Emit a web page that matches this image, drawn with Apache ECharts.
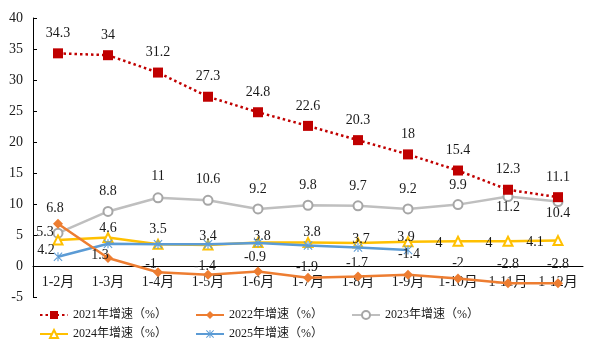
<!DOCTYPE html>
<html>
<head>
<meta charset="utf-8">
<script src="https://cdn.jsdelivr.net/npm/echarts@6/dist/echarts.min.js"></script>
<style>
html,body{margin:0;padding:0;background:#fff;}
#chart{width:600px;height:355px;}
</style>
</head>
<body>
<div id="chart"></div>
<script>
// ---- data ----
const categories = ['1-2月','1-3月','1-4月','1-5月','1-6月','1-7月','1-8月','1-9月','1-10月','1-11月','1-12月'];
const seriesNames = ['2021年增速（%）','2022年增速（%）','2023年增速（%）','2024年增速（%）','2025年增速（%）'];
const growth2021 = [34.3, 34, 31.2, 27.3, 24.8, 22.6, 20.3, 18, 15.4, 12.3, 11.1];
const growth2022 = [6.8, 1.3, -1, -1.4, -0.9, -1.9, -1.7, -1.4, -2, -2.8, -2.8];
const growth2023 = [5.3, 8.8, 11, 10.6, 9.2, 9.8, 9.7, 9.2, 9.9, 11.2, 10.4];
const growth2024 = [4.2, 4.6, 3.5, 3.4, 3.8, 3.8, 3.7, 3.9, 4, 4, 4.1];
const growth2025 = [1.5, 3.6, 3.5, 3.5, 3.7, 3.3, 3.0, 2.6, null, null, null];
const yMin = -5, yMax = 40, yStep = 5;

// ---- label placement (offsets from the point, in px) ----
const off2021 = categories.map(() => [0, -20]);
const off2022 = [[-3,-16],[-8,-3],[-7,-8],[-3,-8],[-3,-14],[-1,-10],[-1,-13],[1,-20],[0,-15],[0,-19],[0,-19]];
const off2023 = [[-13,-1],[0,-20],[0,-21],[0,-21],[0,-20],[0,-20],[0,-20],[0,-20],[0,-19],[0,11],[0,12]];
const off2024 = [[-12,10],[0,-9],[0,-15],[0,-9],[4,-6],[4,-10],[3,-4],[-2,-4],[-19,2],[-19,2],[-23,2]];

const serif = "'Liberation Serif','Times New Roman','Noto Sans CJK SC',serif";
const labelBase = { show: true, position: 'inside', fontFamily: serif, fontSize: 14, color: '#1a1a1a' };

function withLabels(values, offsets) {
  return values.map((v, i) => ({ value: v, label: Object.assign({}, labelBase, { offset: offsets[i] }) }));
}

const asterisk = 'path://M4.4 0 H5.6 V10 H4.4 Z M0 0.8 L0.8 0 L10 9.2 L9.2 10 Z M10 0.8 L9.2 0 L0 9.2 L0.8 10 Z';

const colors = ['#C00000', '#ED7D31', '#BFBFBF', '#FFC000', '#5B9BD5'];

const chart = echarts.init(document.getElementById('chart'), null, { renderer: 'canvas' });

const legendPos = [[39, 309], [195, 309], [351, 309], [39, 328], [195, 328]];

const option = {
  animation: false,
  backgroundColor: '#ffffff',
  grid: { left: 33, right: 17, top: 18, bottom: 58, outerBoundsMode: 'none' },
  legend: seriesNames.map((n, i) => ({
    data: [n],
    left: legendPos[i][0],
    top: legendPos[i][1],
    padding: 0,
    itemWidth: 28,
    itemHeight: 10,
    textStyle: { fontFamily: serif, fontSize: 12, color: '#1a1a1a' },
    selectedMode: false
  })),
  xAxis: {
    type: 'category',
    data: categories,
    boundaryGap: true,
    axisLine: { show: true, onZero: true, lineStyle: { color: '#000', width: 1 } },
    axisTick: { show: false },
    axisLabel: { interval: 0, margin: -22, fontFamily: serif, fontSize: 14, color: '#1a1a1a' },
    splitLine: { show: false }
  },
  yAxis: {
    type: 'value',
    min: yMin,
    max: yMax,
    interval: yStep,
    axisLine: { show: true, lineStyle: { color: '#000', width: 1 } },
    axisTick: { show: true, inside: true, length: 4, lineStyle: { color: '#000' } },
    axisLabel: { margin: 10, fontFamily: serif, fontSize: 14, color: '#1a1a1a' },
    splitLine: { show: false }
  },
  series: [
    {
      name: seriesNames[0], type: 'line', z: 6,
      data: withLabels(growth2021, off2021),
      symbol: 'rect', symbolSize: 10,
      itemStyle: { color: colors[0] },
      lineStyle: { color: colors[0], width: 2.5, type: [2.5, 3] }
    },
    {
      name: seriesNames[1], type: 'line', z: 5,
      data: withLabels(growth2022, off2022),
      symbol: 'diamond', symbolSize: 10,
      itemStyle: { color: colors[1] },
      lineStyle: { color: colors[1], width: 2.5 }
    },
    {
      name: seriesNames[2], type: 'line', z: 2,
      data: withLabels(growth2023, off2023),
      symbol: 'emptyCircle', symbolSize: 9,
      itemStyle: { color: '#A6A6A6', borderColor: '#A6A6A6', borderWidth: 1.5 },
      lineStyle: { color: colors[2], width: 2.5 }
    },
    {
      name: seriesNames[3], type: 'line', z: 3,
      data: withLabels(growth2024, off2024),
      symbol: 'emptyTriangle', symbolSize: 9,
      itemStyle: { color: colors[3], borderColor: colors[3], borderWidth: 1.5 },
      lineStyle: { color: colors[3], width: 2.5 }
    },
    {
      name: seriesNames[4], type: 'line', z: 4,
      data: growth2025,
      symbol: asterisk, symbolSize: 9,
      itemStyle: { color: colors[4] },
      lineStyle: { color: colors[4], width: 2.5 },
      label: { show: false }
    }
  ]
};

chart.setOption(option);
</script>
</body>
</html>
